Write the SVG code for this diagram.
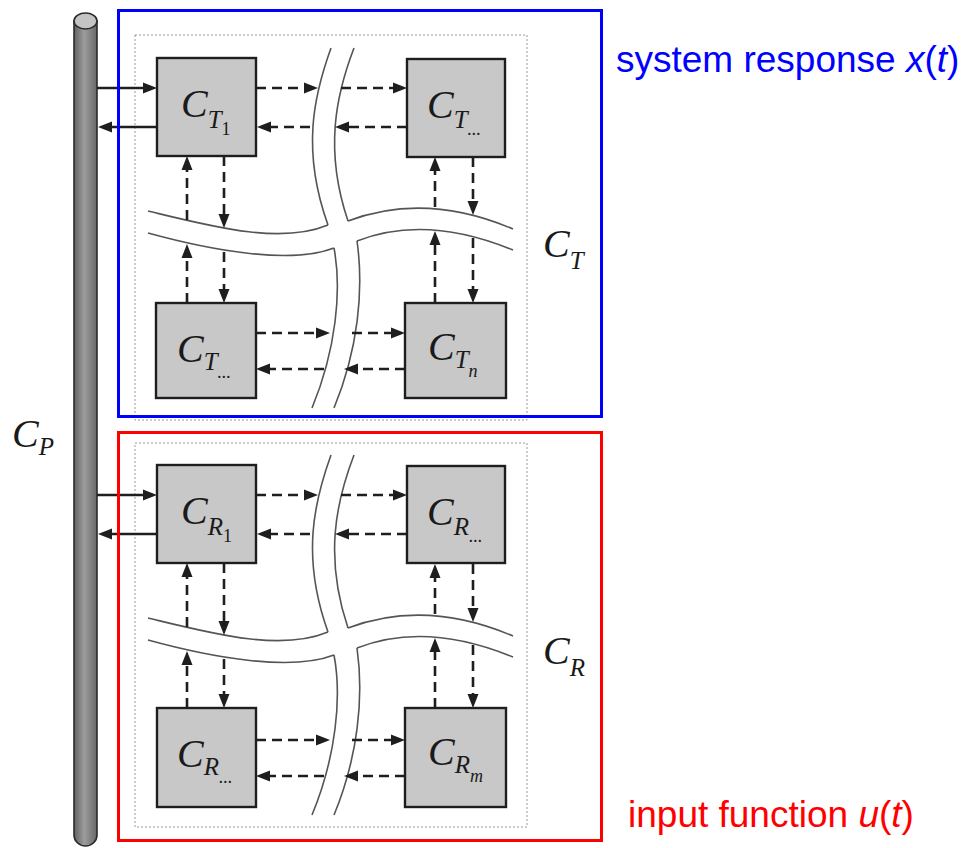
<svg xmlns="http://www.w3.org/2000/svg" width="961" height="848" viewBox="0 0 961 848">
<defs>
<style>
.node{fill:#c8c8c8;stroke:#1e1e1e;stroke-width:2.4}
.road{fill:none;stroke:#555;stroke-width:1.6}
.dash{fill:none;stroke:#1e1e1e;stroke-width:2.6;stroke-dasharray:10 6;marker-end:url(#ah)}
.solid{fill:none;stroke:#1e1e1e;stroke-width:2.6;marker-end:url(#ah)}
.frame{fill:none;stroke:#999;stroke-width:1;stroke-dasharray:2 2}
.m{font-family:"Liberation Serif","Times New Roman",serif;font-style:italic;fill:#1a1a1a}
.big{font-size:40px}
.sub{font-size:25px}
.ss{font-size:18px}
.cap{font-family:"Liberation Sans",Arial,sans-serif;font-size:37px}
.it{font-style:italic}
</style>
<marker id="ah" markerUnits="userSpaceOnUse" viewBox="0 0 14 12" markerWidth="14" markerHeight="12" refX="4" refY="6" orient="auto">
<path d="M0,0.5 L14,6 L0,11.5 z" fill="#1e1e1e"/>
</marker>
<linearGradient id="cyl" x1="0" y1="0" x2="1" y2="0">
<stop offset="0" stop-color="#626262"/>
<stop offset="0.45" stop-color="#9c9c9c"/>
<stop offset="1" stop-color="#686868"/>
</linearGradient>
</defs>
<rect width="961" height="848" fill="#fff"/>

<g id="bus">
<path d="M74,21 V835 A11.5,11 0 0 0 97,835 V21 Z" fill="url(#cyl)" stroke="#2a2a2a" stroke-width="1.6"/>
<ellipse cx="85.5" cy="21" rx="11.5" ry="8" fill="#c4c4c4" stroke="#2a2a2a" stroke-width="1.6"/>
</g>

<g id="frames">
<rect class="frame" x="135" y="35" width="392" height="385"/>
<rect class="frame" x="135" y="443" width="392" height="384"/>
</g>

<g id="roads-top">
<path class="road" d="M331,48 C314,95 301,150 328,225"/>
<path class="road" d="M354,48 C336,95 324,150 348,221"/>
<path class="road" d="M148,211 C210,226 280,245 328,225"/>
<path class="road" d="M148,233 C210,250 290,265 334,248"/>
<path class="road" d="M334,248 C342,290 336,350 312,408"/>
<path class="road" d="M357,241 C364,290 358,350 334,408"/>
<path class="road" d="M348,221 C385,207 440,198 513,229"/>
<path class="road" d="M357,241 C390,228 440,220 513,250"/>
</g>
<g id="roads-bottom" transform="translate(0,407)">
<path class="road" d="M331,48 C314,95 301,150 328,225"/>
<path class="road" d="M354,48 C336,95 324,150 348,221"/>
<path class="road" d="M148,211 C210,226 280,245 328,225"/>
<path class="road" d="M148,233 C210,250 290,265 334,248"/>
<path class="road" d="M334,248 C342,290 336,350 312,408"/>
<path class="road" d="M357,241 C364,290 358,350 334,408"/>
<path class="road" d="M348,221 C385,207 440,198 513,229"/>
<path class="road" d="M357,241 C390,228 440,220 513,250"/>
</g>

<g id="connectors">
<g id="conn-top">
<path class="solid" d="M97,88 H147"/>
<path class="solid" d="M157,127 H108"/>
<path class="dash" d="M256,88 H308"/>
<path class="dash" d="M341,88 H397"/>
<path class="dash" d="M407,127 H345"/>
<path class="dash" d="M310,127 H267"/>
<path class="dash" d="M256,333 H320"/>
<path class="dash" d="M352,333 H395"/>
<path class="dash" d="M405,369 H354"/>
<path class="dash" d="M324,369 H266"/>
<path class="dash" d="M187,220 V166"/>
<path class="dash" d="M187,303 V254"/>
<path class="dash" d="M224,156 V218"/>
<path class="dash" d="M224,252 V293"/>
<path class="dash" d="M435,207 V167"/>
<path class="dash" d="M435,303 V241"/>
<path class="dash" d="M473,157 V205"/>
<path class="dash" d="M473,238 V293"/>
</g>
<g id="conn-bottom" transform="translate(0,407)">
<path class="solid" d="M97,88 H147"/>
<path class="solid" d="M157,127 H108"/>
<path class="dash" d="M256,88 H308"/>
<path class="dash" d="M341,88 H397"/>
<path class="dash" d="M407,127 H345"/>
<path class="dash" d="M310,127 H267"/>
<path class="dash" d="M256,333 H320"/>
<path class="dash" d="M352,333 H395"/>
<path class="dash" d="M405,369 H354"/>
<path class="dash" d="M324,369 H266"/>
<path class="dash" d="M187,220 V166"/>
<path class="dash" d="M187,301 V254"/>
<path class="dash" d="M224,156 V218"/>
<path class="dash" d="M224,252 V291"/>
<path class="dash" d="M435,207 V167"/>
<path class="dash" d="M435,301 V241"/>
<path class="dash" d="M473,157 V205"/>
<path class="dash" d="M473,238 V291"/>
</g>
</g>

<g id="CT1">
<rect class="node" x="157" y="58" width="99" height="98"/>
<text class="m big" x="181" y="117">C<tspan class="sub" dy="11">T</tspan><tspan class="ss" dy="7" font-style="normal">1</tspan></text>
</g>
<g id="CTa">
<rect class="node" x="407" y="59" width="98" height="98"/>
<text class="m big" x="427" y="118">C<tspan class="sub" dy="10">T</tspan><tspan class="ss" dy="7">...</tspan></text>
</g>
<g id="CTb">
<rect class="node" x="156" y="303" width="100" height="95"/>
<text class="m big" x="177" y="362">C<tspan class="sub" dy="8">T</tspan><tspan class="ss" dy="8">...</tspan></text>
</g>
<g id="CTn">
<rect class="node" x="405" y="303" width="101" height="95"/>
<text class="m big" x="428" y="360">C<tspan class="sub" dy="8">T</tspan><tspan class="ss" dy="9">n</tspan></text>
</g>

<g id="CR1">
<rect class="node" x="157" y="465" width="99" height="98"/>
<text class="m big" x="181" y="524">C<tspan class="sub" dy="11">R</tspan><tspan class="ss" dy="7" font-style="normal">1</tspan></text>
</g>
<g id="CRa">
<rect class="node" x="407" y="466" width="98" height="97"/>
<text class="m big" x="427" y="525">C<tspan class="sub" dy="10">R</tspan><tspan class="ss" dy="7">...</tspan></text>
</g>
<g id="CRb">
<rect class="node" x="157" y="708" width="99" height="99"/>
<text class="m big" x="177" y="767">C<tspan class="sub" dy="8">R</tspan><tspan class="ss" dy="8">...</tspan></text>
</g>
<g id="CRm">
<rect class="node" x="405" y="708" width="101" height="99"/>
<text class="m big" x="428" y="765">C<tspan class="sub" dy="8">R</tspan><tspan class="ss" dy="9">m</tspan></text>
</g>

<g id="labels">
<text class="m big" x="543" y="257">C<tspan class="sub" dy="12">T</tspan></text>
<text class="m big" x="543" y="664">C<tspan class="sub" dy="12">R</tspan></text>
<text class="m big" x="12" y="447">C<tspan class="sub" dy="8">P</tspan></text>
</g>

<g id="xbox">
<rect x="118.5" y="10.5" width="483" height="406" fill="none" stroke="#0000ff" stroke-width="3"/>
<text class="cap" x="616" y="72" fill="#0000ff">system response <tspan class="it">x</tspan>(<tspan class="it">t</tspan>)</text>
</g>
<g id="ubox">
<rect x="118.5" y="432.5" width="483" height="408" fill="none" stroke="#ff0000" stroke-width="3"/>
<text class="cap" x="628" y="827" fill="#ff0000">input function <tspan class="it">u</tspan>(<tspan class="it">t</tspan>)</text>
</g>
</svg>
